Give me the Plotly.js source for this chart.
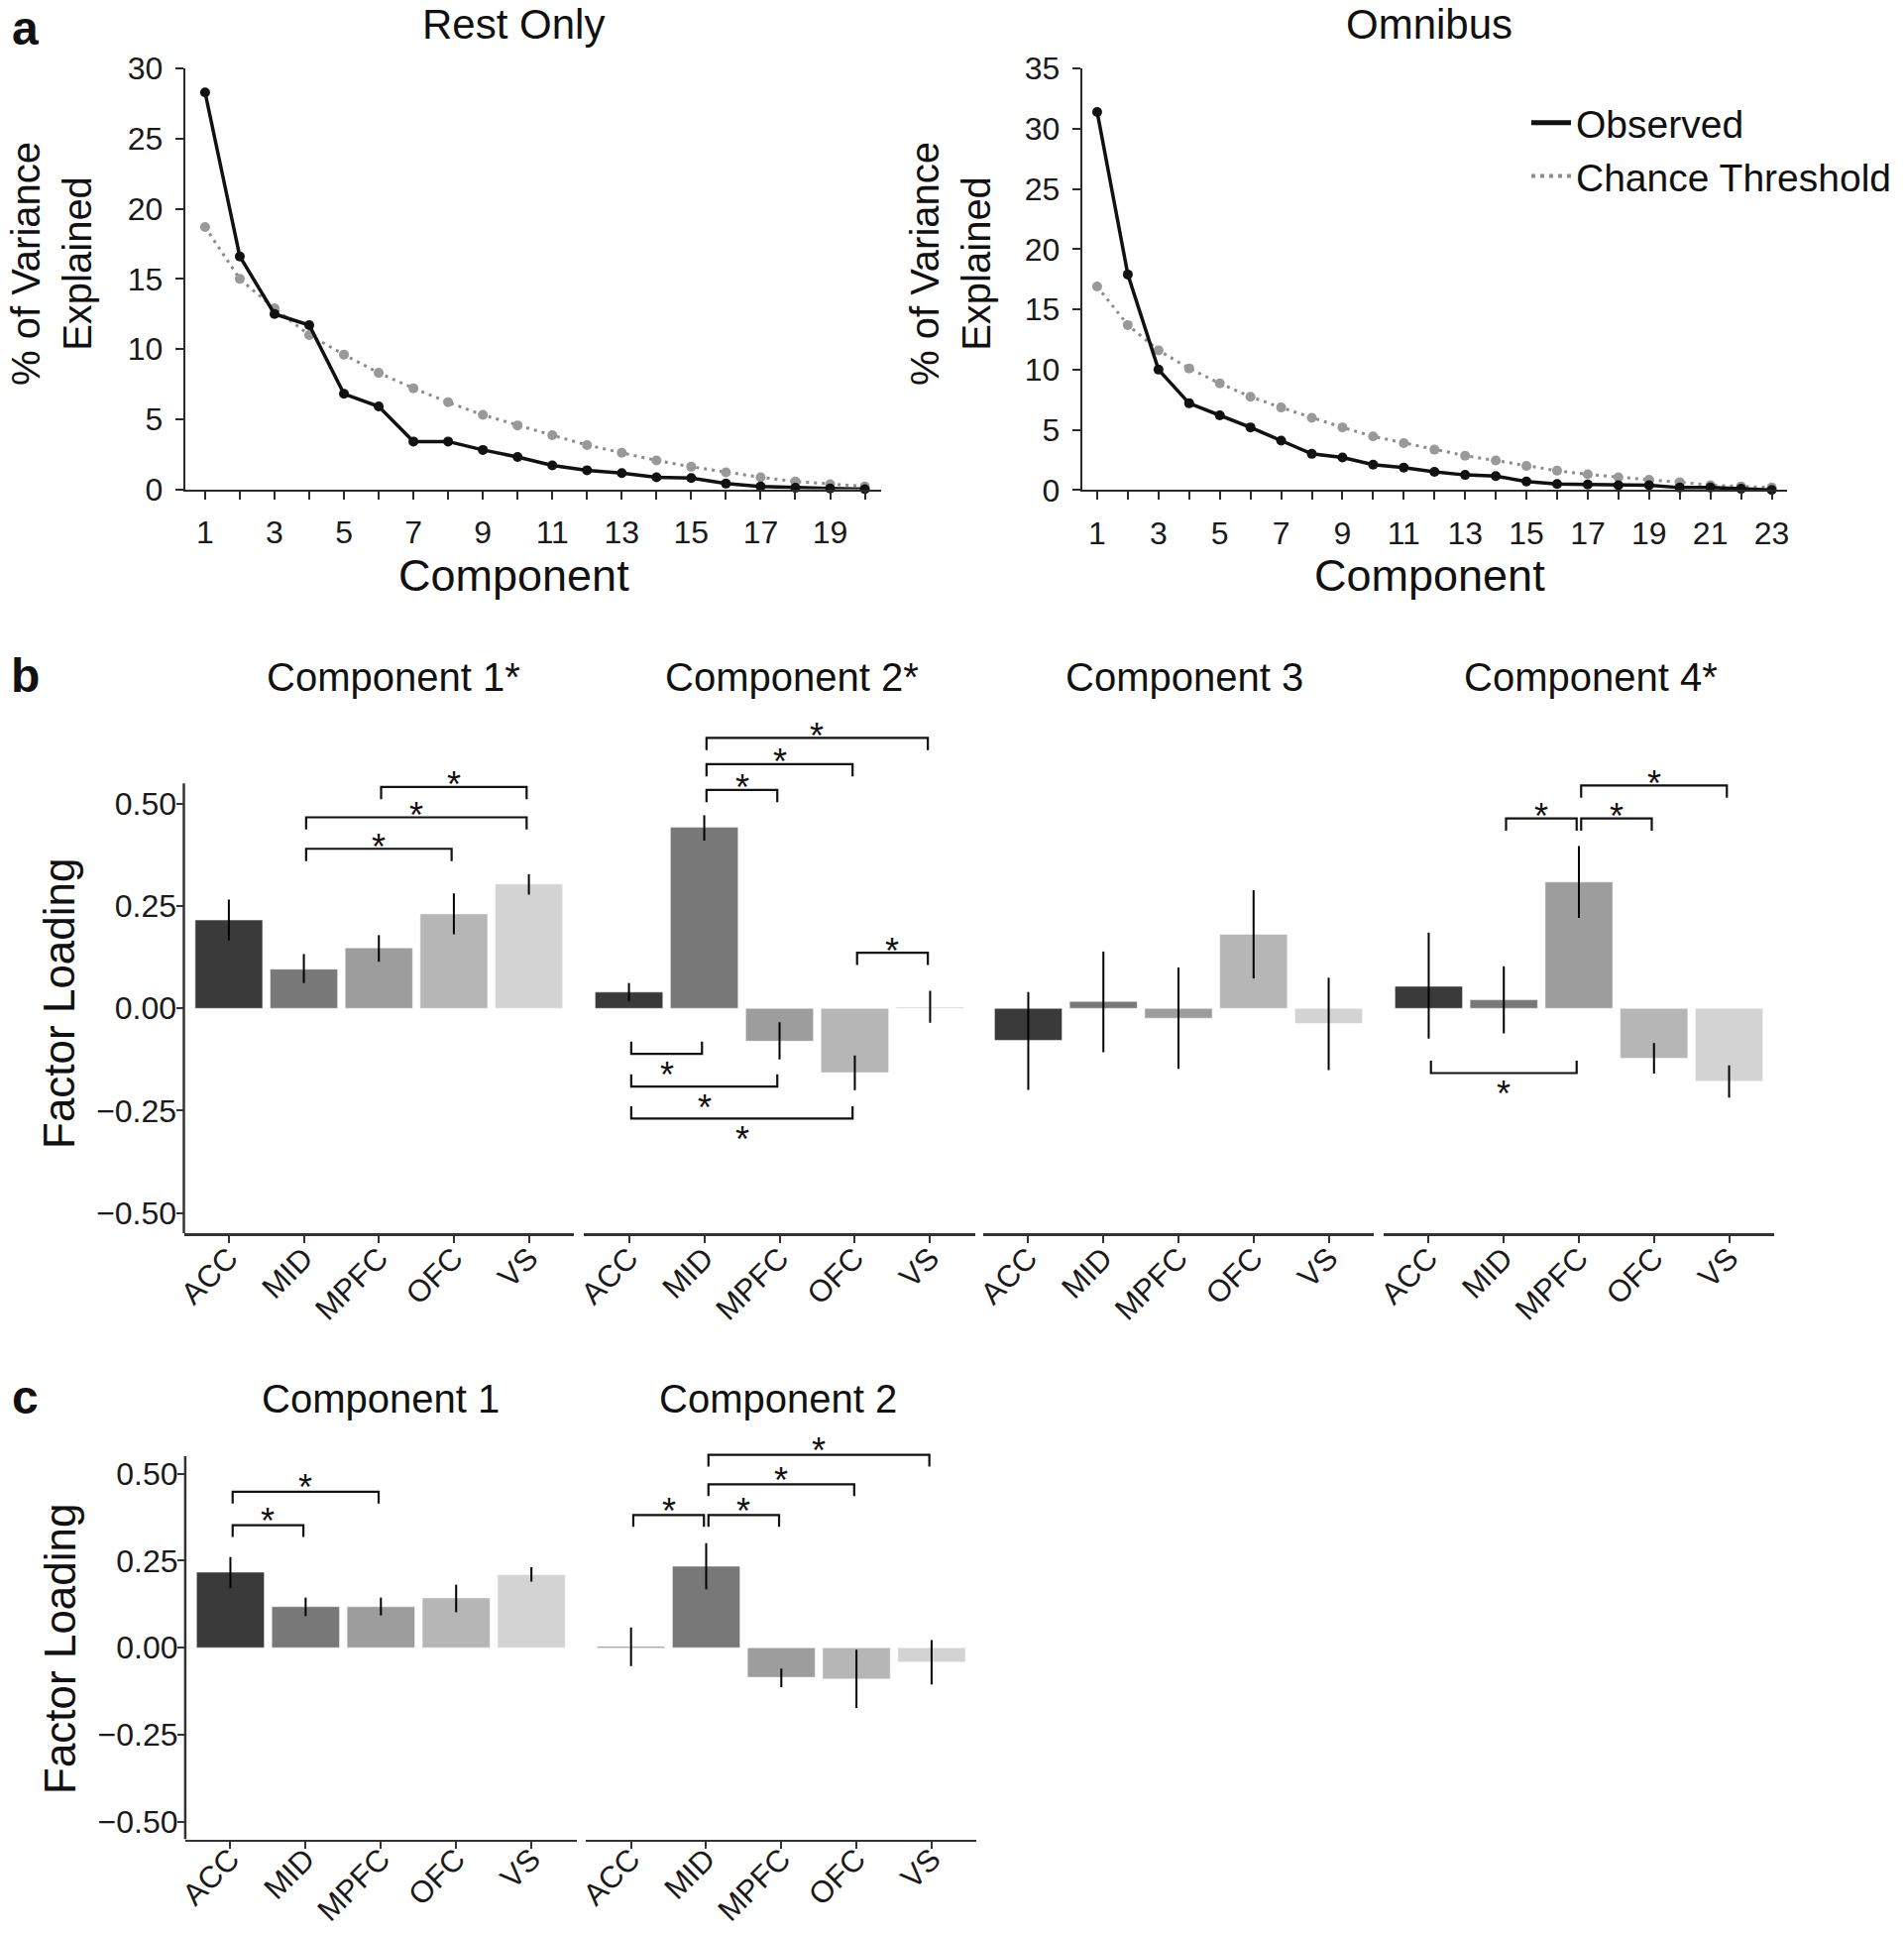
<!DOCTYPE html>
<html><head><meta charset="utf-8">
<script src="https://cdn.plot.ly/plotly-3.0.1.min.js"></script>
<style>html,body{margin:0;padding:0;background:#fff}#chart{width:1921px;height:1950px}</style>
</head><body><div id="chart"></div>
<script>
// ---------- Panel a data ----------
const restComponents = [1,2,3,4,5,6,7,8,9,10,11,12,13,14,15,16,17,18,19,20];
const restObserved = [28.3,16.6,12.5,11.7,6.8,5.9,3.4,3.4,2.8,2.3,1.7,1.35,1.15,0.85,0.8,0.4,0.2,0.1,0.05,0.0];
const restChance   = [18.7,15.0,12.9,11.0,9.6,8.3,7.2,6.2,5.3,4.55,3.85,3.15,2.6,2.05,1.6,1.2,0.85,0.55,0.35,0.2];
const omniComponents = [1,2,3,4,5,6,7,8,9,10,11,12,13,14,15,16,17,18,19,20,21,22,23];
const omniObserved = [31.4,17.9,10.0,7.2,6.2,5.2,4.1,3.0,2.7,2.1,1.85,1.5,1.25,1.15,0.7,0.5,0.45,0.4,0.4,0.2,0.2,0.1,0.0];
const omniChance   = [16.9,13.7,11.6,10.1,8.85,7.75,6.85,6.0,5.2,4.45,3.9,3.35,2.85,2.45,2.0,1.6,1.3,1.05,0.85,0.65,0.4,0.3,0.2];
const seriesNames = ['Observed','Chance Threshold'];
const panelATitles = ['Rest Only','Omnibus'];

// ---------- Panel b / c data ----------
const regions = ['ACC','MID','MPFC','OFC','VS'];
const bTitles = ['Component 1*','Component 2*','Component 3','Component 4*'];
const bLoad1 = [0.216,0.096,0.148,0.231,0.304];
const bLow1  = [0.166,0.062,0.114,0.181,0.278];
const bHigh1 = [0.266,0.133,0.179,0.281,0.328];
const bLoad2 = [0.040,0.443,-0.080,-0.157,0.003];
const bLow2  = [0.018,0.410,-0.125,-0.200,-0.035];
const bHigh2 = [0.062,0.472,-0.034,-0.115,0.043];
const bLoad3 = [-0.078,0.017,-0.024,0.181,-0.037];
const bLow3  = [-0.199,-0.107,-0.148,0.073,-0.151];
const bHigh3 = [0.040,0.139,0.100,0.289,0.075];
const bLoad4 = [0.054,0.021,0.309,-0.122,-0.178];
const bLow4  = [-0.074,-0.061,0.221,-0.159,-0.218];
const bHigh4 = [0.185,0.103,0.397,-0.085,-0.139];

const cTitles = ['Component 1','Component 2'];
const cLoad1 = [0.217,0.118,0.118,0.143,0.210];
const cLow1  = [0.171,0.091,0.093,0.102,0.190];
const cHigh1 = [0.260,0.144,0.144,0.181,0.231];
const cLoad2 = [0.003,0.234,-0.085,-0.090,-0.041];
const cLow2  = [-0.053,0.168,-0.113,-0.173,-0.105];
const cHigh2 = [0.058,0.300,-0.060,-0.006,0.022];

// significance brackets: [facet, from, to, level, side(+1 above / -1 below)]
const bBrackets = [
  [1,'MID','OFC',0.390,1],[1,'MID','VS',0.467,1],[1,'MPFC','VS',0.541,1],
  [2,'MID','MPFC',0.534,1],[2,'MID','OFC',0.597,1],[2,'MID','VS',0.661,1],[2,'OFC','VS',0.136,1],
  [2,'ACC','MID',-0.111,-1],[2,'ACC','MPFC',-0.191,-1],[2,'ACC','OFC',-0.269,-1],
  [4,'MID','MPFC',0.464,1],[4,'MPFC','OFC',0.464,1],[4,'MPFC','VS',0.545,1],[4,'ACC','MPFC',-0.158,-1]
];
const cBrackets = [
  [1,'ACC','MID',0.352,1],[1,'ACC','MPFC',0.448,1],
  [2,'ACC','MID',0.381,1],[2,'MID','MPFC',0.381,1],[2,'MID','OFC',0.469,1],[2,'MID','VS',0.554,1]
];

// ---------- styling ----------
const W = 1921, H = 1950;
const px = v => v / W, py = v => 1 - v / H;
const FONT = 'Liberation Sans, Arial, Helvetica, sans-serif';
const regionColors = ['#3a3a3a','#787878','#9d9d9d','#b6b6b6','#d3d3d3'];
const regionPos = regions.map((r, i) => i + 1);
const AX = '#2a2a2a';

const traces = [];
const shapes = [];
const annotations = [];

// ---------- Panel a ----------
function lineTraces(xs, obs, chance, xa, ya) {
  traces.push({x: xs, y: chance, xaxis: xa, yaxis: ya, type: 'scatter', mode: 'lines+markers',
    line: {color: '#8c8c8c', width: 3, dash: '3px,5px'}, marker: {size: 10, color: '#999999'},
    showlegend: false, cliponaxis: false, name: seriesNames[1]});
  traces.push({x: xs, y: obs, xaxis: xa, yaxis: ya, type: 'scatter', mode: 'lines+markers',
    line: {color: '#111111', width: 3.5}, marker: {size: 10, color: '#111111'},
    showlegend: false, cliponaxis: false, name: seriesNames[0]});
}
lineTraces(restComponents, restObserved, restChance, 'x', 'y');
lineTraces(omniComponents, omniObserved, omniChance, 'x2', 'y2');
// legend entries
traces.push({x: [null], y: [null], xaxis: 'x2', yaxis: 'y2', type: 'scatter', mode: 'lines',
  line: {color: '#111111', width: 5}, name: seriesNames[0], showlegend: true});
traces.push({x: [null], y: [null], xaxis: 'x2', yaxis: 'y2', type: 'scatter', mode: 'lines',
  line: {color: '#8c8c8c', width: 4, dash: '4px,5px'}, name: seriesNames[1], showlegend: true});

function lineX(domain, range, vals) {
  return {domain: domain, range: range, tickvals: vals, ticktext: vals.map(v => v % 2 === 1 ? String(v) : ''),
    showline: true, linecolor: AX, linewidth: 2, ticks: 'outside', ticklen: 8, tickwidth: 2, tickcolor: AX,
    showgrid: false, zeroline: false, tickfont: {size: 32, color: '#1a1a1a'}, ticklabelstandoff: 6};
}
function lineY(domain, range, dt) {
  const vals = []; for (let v = range[0]; v <= range[1] + 1e-9; v += dt) vals.push(v);
  return {domain: domain, range: range, tickvals: vals, showline: true, linecolor: AX, linewidth: 2,
    ticks: 'outside', ticklen: 8, tickwidth: 2, tickcolor: AX, showgrid: false, zeroline: false,
    tickfont: {size: 32, color: '#1a1a1a'}, ticklabelstandoff: 6};
}

// ---------- Panel b / c bars ----------
function barTrace(load, low, high, xa, ya) {
  traces.push({type: 'bar', x: regionPos, y: load, xaxis: xa, yaxis: ya, width: 0.9,
    marker: {color: regionColors, line: {width: 1, color: 'rgba(255,255,255,0.5)'}}, showlegend: false,
    error_y: {type: 'data', symmetric: false, array: high.map((h, i) => h - load[i]),
      arrayminus: low.map((l, i) => load[i] - l), width: 0, thickness: 2, color: '#000'}});
}
const bAxes = ['x3','x4','x5','x6'];
barTrace(bLoad1, bLow1, bHigh1, 'x3', 'y3');
barTrace(bLoad2, bLow2, bHigh2, 'x4', 'y3');
barTrace(bLoad3, bLow3, bHigh3, 'x5', 'y3');
barTrace(bLoad4, bLow4, bHigh4, 'x6', 'y3');
const cAxes = ['x7','x8'];
barTrace(cLoad1, cLow1, cHigh1, 'x7', 'y4');
barTrace(cLoad2, cLow2, cHigh2, 'x8', 'y4');

function facetX(domain, anchor, standoff) {
  return {domain: domain, anchor: anchor, range: [0.4, 5.6], tickvals: regionPos, ticktext: regions,
    tickangle: -45, showline: true, linecolor: '#333', linewidth: 2.5, ticks: 'outside', ticklen: 7,
    tickwidth: 2, tickcolor: '#333', showgrid: false, zeroline: false,
    tickfont: {size: 31, color: '#1a1a1a'}, ticklabelstandoff: standoff};
}
const loadTicks = [-0.5, -0.25, 0, 0.25, 0.5];
function facetY(domain, range, anchor) {
  return {domain: domain, anchor: anchor, range: range, tickvals: loadTicks,
    ticktext: loadTicks.map(v => (v < 0 ? '\u2212' : '') + Math.abs(v).toFixed(2)),
    showline: false, ticks: 'outside', ticklen: 7, tickwidth: 2, tickcolor: '#333',
    showgrid: false, zeroline: false, tickfont: {size: 32, color: '#1a1a1a'}, ticklabelstandoff: -7};
}

function brackets(list, axes, ya, tip, upShift, downShift) {
  list.forEach(([f, a, b, lvl, side]) => {
    const x1 = regions.indexOf(a) + 1 + 0.03, x2 = regions.indexOf(b) + 1 - 0.03;
    const t = lvl - side * tip;
    shapes.push({type: 'path', xref: axes[f - 1], yref: ya, layer: 'above',
      path: `M ${x1},${t} L ${x1},${lvl} L ${x2},${lvl} L ${x2},${t}`,
      line: {color: '#111', width: 2.2}});
    annotations.push({xref: axes[f - 1], yref: ya, x: (x1 + x2) / 2, y: lvl, text: '*', showarrow: false,
      yanchor: 'middle', yshift: side > 0 ? upShift : downShift, font: {size: 36, color: '#111'}});
  });
}
brackets(bBrackets, bAxes, 'y3', 0.03, 2, -21);
brackets(cBrackets, cAxes, 'y4', 0.034, 4, -21);

// domains
const bDom = [[185.5,579],[589,984],[992,1386],[1396,1790]].map(d => [px(d[0]), px(d[1])]);
const cDom = [[186.9,581.7],[591.2,985.4]].map(d => [px(d[0]), px(d[1])]);
const bRange = [-0.55, 0.75], cRange = [-0.55, 0.62];
const bYDom = [py(1244.3), py(1244.3 - (bRange[1] - bRange[0]) * 412.8)];
const cYDom = [py(1855.5), py(1855.5 - (cRange[1] - cRange[0]) * 351.4)];

// y axis lines for b and c (only to 0.55)
shapes.push({type: 'line', xref: 'paper', yref: 'y3', x0: bDom[0][0], x1: bDom[0][0], y0: -0.55, y1: 0.55,
  line: {color: '#333', width: 2.5}});
shapes.push({type: 'line', xref: 'paper', yref: 'y4', x0: cDom[0][0], x1: cDom[0][0], y0: -0.55, y1: 0.55,
  line: {color: '#333', width: 2.5}});

// ---------- text ----------
function txt(x, y, text, size, extra) {
  annotations.push(Object.assign({xref: 'paper', yref: 'paper', x: px(x), y: py(y), text: text,
    showarrow: false, xanchor: 'center', yanchor: 'middle', font: {size: size, color: '#111'}}, extra || {}));
}
txt(25, 0, '<b>a</b>', 48, {yanchor: 'top'});
txt(25, 681, '<b>b</b>', 48);
txt(25, 1409, '<b>c</b>', 48);
txt(518, 25, panelATitles[0], 42);
txt(1442, 25, panelATitles[1], 42);
txt(518, 581, 'Component', 45);
txt(1442, 581, 'Component', 45);
txt(52, 266, '% of Variance<br>Explained', 40, {textangle: -90});
txt(959, 266, '% of Variance<br>Explained', 40, {textangle: -90});
[397, 799, 1195, 1604.6].forEach((x, i) => txt(x, 683, bTitles[i], 40));
[384, 785].forEach((x, i) => txt(x, 1411, cTitles[i], 40));
txt(59, 1012, 'Factor Loading', 44, {textangle: -90});
txt(60, 1663, 'Factor Loading', 44, {textangle: -90});

const layout = {
  width: W, height: H, margin: {l: 0, r: 0, t: 0, b: 0}, paper_bgcolor: '#fff', plot_bgcolor: 'rgba(0,0,0,0)',
  font: {family: FONT, color: '#111'}, bargap: 0,
  xaxis: Object.assign(lineX([px(186.7), px(889)], [0.423, 20.47], restComponents), {anchor: 'y'}),
  yaxis: Object.assign(lineY([py(493.5), py(69.2)], [0, 30], 5), {anchor: 'x'}),
  xaxis2: Object.assign(lineX([px(1091.8), px(1802.7)], [0.51, 23.49], omniComponents), {anchor: 'y2'}),
  yaxis2: Object.assign(lineY([py(494.3), py(69.2)], [0, 35], 5), {anchor: 'x2'}),
  xaxis3: facetX(bDom[0], 'y3', -15), xaxis4: facetX(bDom[1], 'y3', -15),
  xaxis5: facetX(bDom[2], 'y3', -15), xaxis6: facetX(bDom[3], 'y3', -15),
  yaxis3: facetY(bYDom, bRange, 'x3'),
  xaxis7: facetX(cDom[0], 'y4', -20), xaxis8: facetX(cDom[1], 'y4', -20),
  yaxis4: facetY(cYDom, cRange, 'x7'),
  showlegend: true,
  legend: {x: px(1540), y: py(92), xanchor: 'left', yanchor: 'top', font: {size: 39, color: '#111'},
    bgcolor: 'rgba(0,0,0,0)', itemwidth: 40, tracegroupgap: 0},
  shapes: shapes, annotations: annotations
};
Plotly.newPlot('chart', traces, layout, {staticPlot: true});
</script></body></html>
